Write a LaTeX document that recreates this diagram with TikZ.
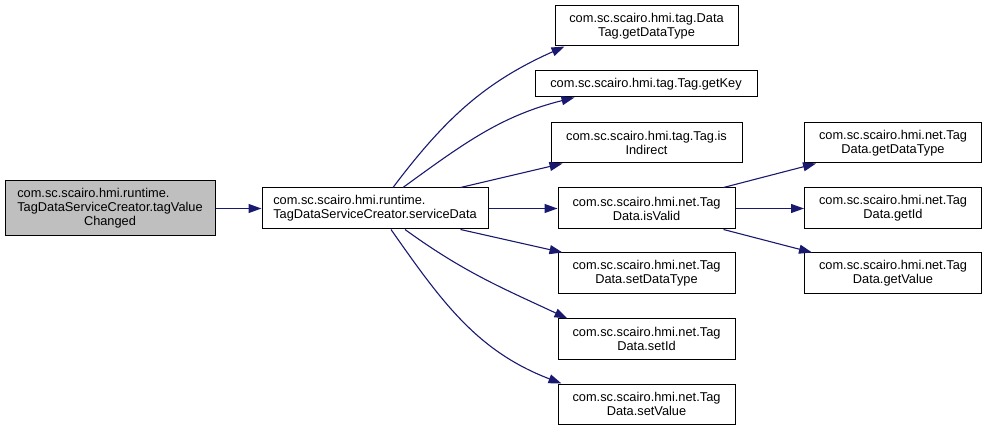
\documentclass[tikz,border=0pt]{standalone}
\usepackage{fontspec}
\setmainfont{Liberation Sans}
\usepackage{xcolor}
\usepackage{tikz}
\usetikzlibrary{positioning,arrows.meta}
\definecolor{EdgeBlue}{RGB}{25,25,112}
\definecolor{CallerGrey}{RGB}{191,191,191}

\begin{document}
\begin{tikzpicture}[x=1pt, y=1pt,
                % Style for a function box
                funcnode/.style={
                    draw=black, line width=1pt, fill=white,
                    minimum width=177pt, minimum height=41pt,
                    inner sep=0pt, align=center,
                    font=\fontsize{12.8}{14}\selectfont
                },
                % Style for the calling function (grey)
                rootnode/.style={
                    funcnode, fill=CallerGrey
                },
                % Style for a call arrow
                calledge/.style={
                    draw=EdgeBlue, line width=1.1pt,
                    -{Triangle[length=13pt,width=9pt]}
                }
            ]
                \useasboundingbox (0,0) rectangle (987,431);

                % --- 1. Caller and serviceData ---
                \node[rootnode, minimum width=210pt, minimum height=55pt] (A) at (110, 222.5)
                    {\begin{tabular}{@{}l@{}}com.sc.scairo.hmi.runtime.\\TagDataServiceCreator.tagValue\\\multicolumn{1}{@{}c@{}}{Changed}\end{tabular}};
                \node[funcnode, minimum width=226pt, align=left] (S) at (375, 222.5)
                    {com.sc.scairo.hmi.runtime.\\TagDataServiceCreator.serviceData};

                % --- 2. Functions called by serviceData ---
                \node[funcnode, minimum width=183pt, minimum height=40pt] (T1) at (646.5, 405) {com.sc.scairo.hmi.tag.Data\\Tag.getDataType};
                \node[funcnode, minimum width=222pt, minimum height=26pt] (T2) at (646, 347) {com.sc.scairo.hmi.tag.Tag.getKey};
                \node[funcnode, minimum width=191pt, minimum height=40pt] (T3) at (646.5, 288) {com.sc.scairo.hmi.tag.Tag.is\\Indirect};
                \node[funcnode] (V) at (646.5, 222.5) {com.sc.scairo.hmi.net.Tag\\Data.isValid};
                \node[funcnode] (SD) at (646.5, 157.5) {com.sc.scairo.hmi.net.Tag\\Data.setDataType};
                \node[funcnode, minimum height=40pt] (SI) at (646.5, 92) {com.sc.scairo.hmi.net.Tag\\Data.setId};
                \node[funcnode, minimum height=40pt] (SV) at (646.5, 27) {com.sc.scairo.hmi.net.Tag\\Data.setValue};

                % --- 3. Functions called by isValid ---
                \node[funcnode, minimum height=40pt] (N1) at (893, 288) {com.sc.scairo.hmi.net.Tag\\Data.getDataType};
                \node[funcnode] (N2) at (893, 222.5) {com.sc.scairo.hmi.net.Tag\\Data.getId};
                \node[funcnode] (N3) at (893, 157.5) {com.sc.scairo.hmi.net.Tag\\Data.getValue};

                % --- 4. Call arrows ---
                \draw[calledge] (A.east) -- (S.west);
                \draw[calledge] (S.east) -- (V.west);
                \draw[calledge] (V.east) -- (N2.west);
                \draw[calledge] ([xshift=-28pt]S.north east) -- ([xshift=12pt]T3.south west);
                \draw[calledge] ([xshift=-28pt]S.south east) -- ([xshift=5pt]SD.north west);
                \draw[calledge] ([xshift=-12pt]V.north east) -- ([xshift=12pt]N1.south west);
                \draw[calledge] ([xshift=-12pt]V.south east) -- ([xshift=8pt]N3.north west);
                \draw[calledge] ([xshift=18pt]S.north) to[out=53, in=204] ([xshift=10pt]T1.south west);
                \draw[calledge] ([xshift=28pt]S.north) to[out=36, in=194] ([xshift=40pt]T2.south west);
                \draw[calledge] ([xshift=30pt]S.south) to[out=-36, in=155] ([xshift=10pt]SI.north west);
                \draw[calledge] ([xshift=16pt]S.south) to[out=-55, in=159] ([xshift=4pt]SV.north west);

            \end{tikzpicture}
\end{document}
